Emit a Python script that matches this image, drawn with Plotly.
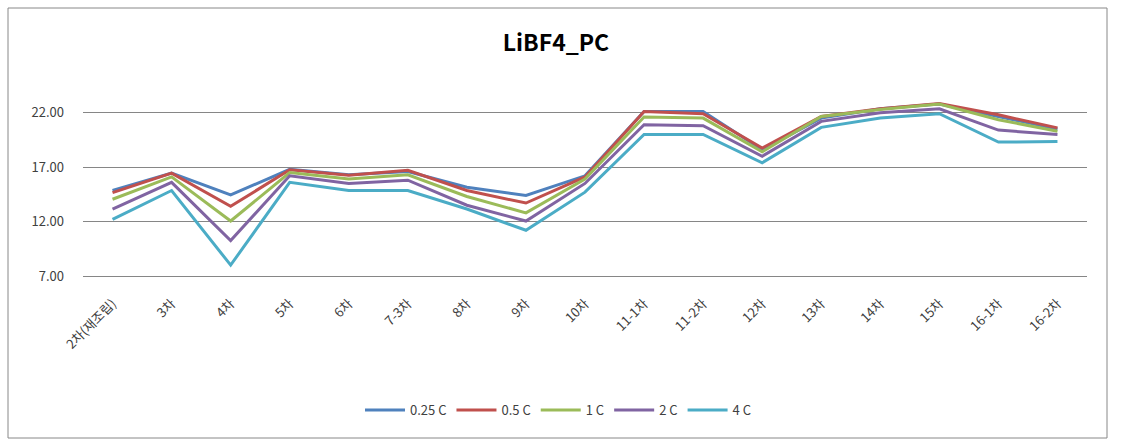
import plotly.graph_objects as go

categories = ["2차(재조립)", "3차", "4차", "5차", "6차", "7-3차", "8차", "9차", "10차",
              "11-1차", "11-2차", "12차", "13차", "14차", "15차", "16-1차", "16-2차"]

c025 = [14.85, 16.45, 14.45, 16.8, 16.3, 16.6, 15.15, 14.4, 16.2, 22.1, 22.1, 18.6, 21.5, 22.35, 22.8, 21.65, 20.5]
c05 = [14.65, 16.45, 13.4, 16.75, 16.25, 16.7, 14.85, 13.7, 16.1, 22.1, 21.9, 18.75, 21.65, 22.35, 22.85, 21.8, 20.6]
c1 = [14.05, 16.1, 12.05, 16.5, 15.9, 16.3, 14.3, 12.8, 15.9, 21.6, 21.5, 18.4, 21.65, 22.3, 22.8, 21.35, 20.3]
c2 = [13.15, 15.6, 10.25, 16.2, 15.5, 15.8, 13.5, 12.05, 15.5, 20.9, 20.8, 18.0, 21.2, 22.0, 22.35, 20.4, 20.0]
c4 = [12.2, 14.85, 8.0, 15.6, 14.85, 14.85, 13.15, 11.2, 14.7, 20.0, 20.0, 17.4, 20.65, 21.5, 21.9, 19.3, 19.35]

series = [("0.25 C", c025, "#4F81BD"), ("0.5 C", c05, "#C0504D"), ("1 C", c1, "#9BBB59"),
          ("2 C", c2, "#8064A2"), ("4 C", c4, "#4BACC6")]

fig = go.Figure()
for name, vals, col in series:
    fig.add_trace(go.Scatter(x=categories, y=vals, name=name, mode="lines",
                             line=dict(color=col, width=3)))

font_family = "Noto Sans CJK KR"
W, H = 1121, 446
L, R, T, B = 83, 34, 80, 170
pw, ph = W - L - R, H - T - B

def px(x):
    return (x - L) / pw

def py(y):
    return (H - B - y) / ph

fig.update_layout(
    width=W, height=H,
    margin=dict(l=L, r=R, t=T, b=B),
    paper_bgcolor="white", plot_bgcolor="white",
    font=dict(family=font_family, size=13, color="#404040"),
    title=dict(text="<b>LiBF4_PC</b>", x=px(556), xanchor="center", xref="paper",
               y=1 - 43 / H, yanchor="middle",
               font=dict(family=font_family, size=23, color="#000000")),
    showlegend=True,
    legend=dict(orientation="h", x=px(558), xanchor="center", y=py(410), yanchor="middle",
                font=dict(family=font_family, size=13, color="#404040"),
                itemwidth=40, tracegroupgap=0),
    xaxis=dict(type="category", tickangle=-45, showgrid=False, showline=True,
               linecolor="#868686", linewidth=1, ticks="", ticklabelstandoff=14,
               tickfont=dict(family=font_family, size=13, color="#404040"),
               range=[-0.5, len(categories) - 0.5]),
    yaxis=dict(range=[7, 25], tick0=7, dtick=5, tickformat=".2f", showgrid=True,
               gridcolor="#868686", gridwidth=1, zeroline=False, showline=False,
               ticks="", ticklabelstandoff=18,
               tickfont=dict(family=font_family, size=13, color="#404040")),
    shapes=[dict(type="rect", xref="paper", yref="paper",
                 x0=px(8), x1=px(1107), y0=py(438), y1=py(8),
                 line=dict(color="#888888", width=1), fillcolor="rgba(0,0,0,0)", layer="below")],
)

fig.write_html("out.html")
